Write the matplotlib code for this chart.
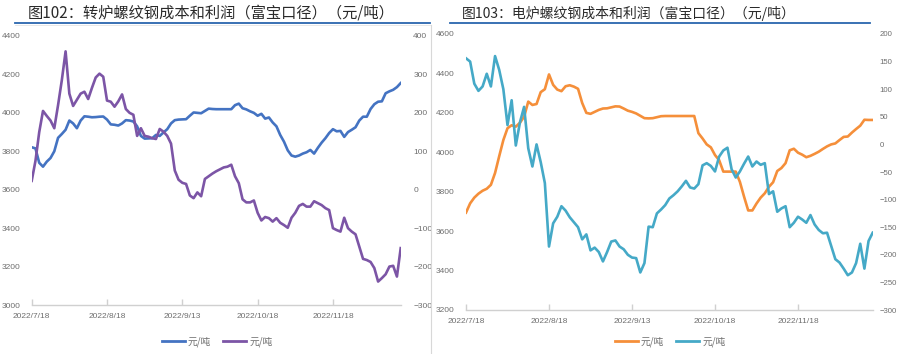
import matplotlib
matplotlib.use('Agg')
import matplotlib.pyplot as plt
import numpy as np
from matplotlib.lines import Line2D
from matplotlib.ticker import MultipleLocator, FixedLocator, FixedFormatter

plt.rcParams['font.family'] = ['Noto Sans CJK SC', 'DejaVu Sans']

# ---------------- data ----------------
date_labels_left = ['2022/7/18', '2022/8/18', '2022/9/13', '2022/10/18', '2022/11/18']
date_labels_right = ['2022/7/18', '2022/8/18', '2022/9/13', '2022/10/18', '2022/11/18']
label_step = 20

title_left = '图102：转炉螺纹钢成本和利润（富宝口径）（元/吨）'
title_right = '图103：电炉螺纹钢成本和利润（富宝口径）（元/吨）'
legend_names = ['元/吨', '元/吨']

# converter (BOF) rebar: cost (left axis) and profit (right axis)
bof_cost = [3821, 3815, 3740, 3720, 3746, 3765, 3800, 3870, 3890, 3912,
            3960, 3945, 3920, 3960, 3982, 3980, 3977, 3978, 3980, 3981,
            3965, 3940, 3938, 3934, 3945, 3962, 3960, 3955, 3930, 3880,
            3866, 3867, 3868, 3885, 3880, 3898, 3915, 3945, 3962, 3965,
            3966, 3967, 3985, 4002, 4000, 3998, 4010, 4022, 4020, 4019,
            4019, 4019, 4019, 4019, 4040, 4048, 4024, 4018, 4008, 4000,
            3985, 3995, 3970, 3976, 3950, 3930, 3885, 3850, 3805, 3778,
            3772, 3778, 3788, 3795, 3807, 3788, 3818, 3845, 3868, 3895,
            3915, 3904, 3906, 3875, 3900, 3912, 3925, 3960, 3980, 3980,
            4020, 4045, 4058, 4060, 4102, 4112, 4120, 4134, 4155]
bof_profit = [23, 75, 150, 205, 192, 180, 160, 220, 285, 360,
              250, 218, 234, 250, 255, 236, 265, 292, 302, 294,
              232, 229, 216, 230, 248, 210, 200, 195, 140, 160,
              140, 138, 134, 132, 158, 151, 140, 120, 50, 26,
              18, 15, -15, -22, -7, -17, 28, 35, 42, 48,
              53, 58, 60, 65, 35, 17, -25, -33, -33, -28,
              -60, -80, -71, -74, -83, -74, -86, -92, -99, -73,
              -60, -42, -37, -44, -44, -30, -35, -40, -48, -53,
              -100, -105, -109, -73, -100, -109, -116, -148, -180, -183,
              -188, -204, -239, -230, -220, -200, -198, -226, -152]

# electric-furnace (EAF) rebar: cost (left axis) and profit (right axis)
eaf_cost = [3694, 3741, 3770, 3790, 3805, 3815, 3835, 3895, 3980, 4062,
            4122, 4137, 4130, 4150, 4180, 4257, 4240, 4245, 4305, 4320,
            4395, 4342, 4318, 4310, 4335, 4340, 4333, 4322, 4250, 4200,
            4195, 4205, 4215, 4222, 4223, 4228, 4233, 4232, 4222, 4211,
            4205, 4197, 4185, 4173, 4172, 4173, 4178, 4183, 4184, 4184,
            4184, 4184, 4184, 4184, 4184, 4184, 4097, 4070, 4040, 4025,
            3986, 3960, 3902, 3902, 3902, 3902, 3850, 3775, 3705, 3705,
            3740, 3770, 3792, 3825, 3848, 3905, 3920, 3945, 4010, 4018,
            3998, 3988, 3975, 3982, 3992, 4003, 4017, 4030, 4040, 4045,
            4062, 4078, 4080, 4100, 4118, 4135, 4165, 4164, 4164]
eaf_profit = [156, 150, 110, 97, 105, 128, 105, 160, 135, 100,
              35, 80, -2, 40, 68, -7, -40, 0, -32, -70,
              -185, -143, -131, -112, -120, -132, -141, -150, -172, -163,
              -192, -187, -195, -212, -195, -176, -174, -185, -190, -200,
              -205, -206, -232, -215, -149, -150, -125, -118, -110, -98,
              -92, -85, -76, -66, -78, -80, -72, -38, -34, -39,
              -49, -22, -11, -6, -45, -60, -49, -35, -22, -40,
              -31, -37, -34, -90, -85, -122, -116, -112, -150, -142,
              -131, -136, -142, -128, -145, -155, -161, -160, -184, -208,
              -214, -225, -237, -232, -215, -180, -225, -175, -160]

# ---------------- styles ----------------
W, H = 900, 354
c_blue = '#4473C2'
c_purple = '#7C55A6'
c_orange = '#F58F3A'
c_teal = '#45A9C7'
tick_color = '#6E6E6E'
axis_color = '#D0D0D0'

fig = plt.figure(figsize=(W / 100, H / 100), dpi=100)
fig.patch.set_facecolor('white')


def fx(px):
    return px / W


def fy(py):
    return 1 - py / H


def style_pair(ax, ax2, labels, n, rpad=8):
    for a in (ax, ax2):
        for s in ('top', 'left', 'right', 'bottom'):
            a.spines[s].set_visible(False)
    ax.tick_params(axis='y', length=0, labelsize=6, labelcolor=tick_color, pad=8)
    ax2.tick_params(axis='y', length=0, labelsize=6, labelcolor=tick_color, pad=rpad)
    ax.spines['bottom'].set_visible(True)
    ax.spines['bottom'].set_color(axis_color)
    ax.spines['bottom'].set_linewidth(1.0)
    pos = list(range(0, n, label_step))
    ax.xaxis.set_major_locator(FixedLocator(pos))
    ax.xaxis.set_major_formatter(FixedFormatter(labels[:len(pos)]))
    ax.tick_params(axis='x', length=4, direction='in', color=axis_color, width=1,
                   labelsize=6, labelcolor=tick_color, pad=6)
    for lab in ax.get_xticklabels() + ax.get_yticklabels() + ax2.get_yticklabels():
        lab.set_family('Liberation Sans')


# ---------- left chart ----------
n1 = len(bof_cost)
x1 = np.arange(n1)
ax1 = fig.add_axes([fx(31.7), fy(305), fx(369), (305 - 36) / H])
ax2 = ax1.twinx()
ax1.plot(x1, bof_cost, color=c_blue, lw=1.9, solid_joinstyle='round')
ax2.plot(x1, bof_profit, color=c_purple, lw=1.9, solid_joinstyle='round')
ax1.set_xlim(0, n1 - 1)
ax1.set_ylim(3000, 4400)
ax2.set_ylim(-300, 400)
ax1.yaxis.set_major_locator(MultipleLocator(200))
ax2.yaxis.set_major_locator(MultipleLocator(100))
style_pair(ax1, ax2, date_labels_left, n1, rpad=9)

# ---------- right chart ----------
n2 = len(eaf_cost)
x2 = np.arange(n2)
ax3 = fig.add_axes([fx(466), fy(310), fx(406.7), (310 - 34) / H])
ax4 = ax3.twinx()
ax3.plot(x2, eaf_cost, color=c_orange, lw=1.9, solid_joinstyle='round')
ax4.plot(x2, eaf_profit, color=c_teal, lw=1.9, solid_joinstyle='round')
ax3.set_xlim(0, n2 - 1)
ax3.set_ylim(3200, 4600)
ax4.set_ylim(-300, 200)
ax3.yaxis.set_major_locator(MultipleLocator(200))
ax4.yaxis.set_major_locator(MultipleLocator(50))
style_pair(ax3, ax4, date_labels_right, n2, rpad=5)
for lab in ax4.get_yticklabels():
    lab.set_fontsize(5.6)

# ---------- legends ----------
h1 = [Line2D([], [], color=c_blue, lw=2), Line2D([], [], color=c_purple, lw=2)]
fig.legend(h1, legend_names, loc='center', bbox_to_anchor=(fx(217), fy(342)),
           ncol=2, frameon=False, fontsize=7, handlelength=2.4, columnspacing=1.2,
           handletextpad=0.3, labelcolor=tick_color)
h2 = [Line2D([], [], color=c_orange, lw=2), Line2D([], [], color=c_teal, lw=2)]
fig.legend(h2, legend_names, loc='center', bbox_to_anchor=(fx(670), fy(342)),
           ncol=2, frameon=False, fontsize=7, handlelength=2.4, columnspacing=1.2,
           handletextpad=0.3, labelcolor=tick_color)

# ---------- titles and rules ----------
fig.text(fx(28), fy(13), title_left, fontsize=11, color='#2A2A2A', ha='left', va='center')
fig.text(fx(462), fy(13), title_right, fontsize=10, color='#2A2A2A', ha='left', va='center')
fig.add_artist(Line2D([fx(15), fx(430)], [fy(22.5), fy(22.5)], color='#2A66AE', lw=1.3))
fig.add_artist(Line2D([fx(450), fx(870)], [fy(22.5), fy(22.5)], color='#2A66AE', lw=1.3))
fig.add_artist(Line2D([fx(15), fx(430)], [fy(25), fy(25)], color='#E4E4E4', lw=0.6))
fig.add_artist(Line2D([fx(431), fx(431)], [fy(25), fy(354)], color='#D8D8D8', lw=0.8))

fig.savefig('out.png', dpi=100, facecolor='white')
